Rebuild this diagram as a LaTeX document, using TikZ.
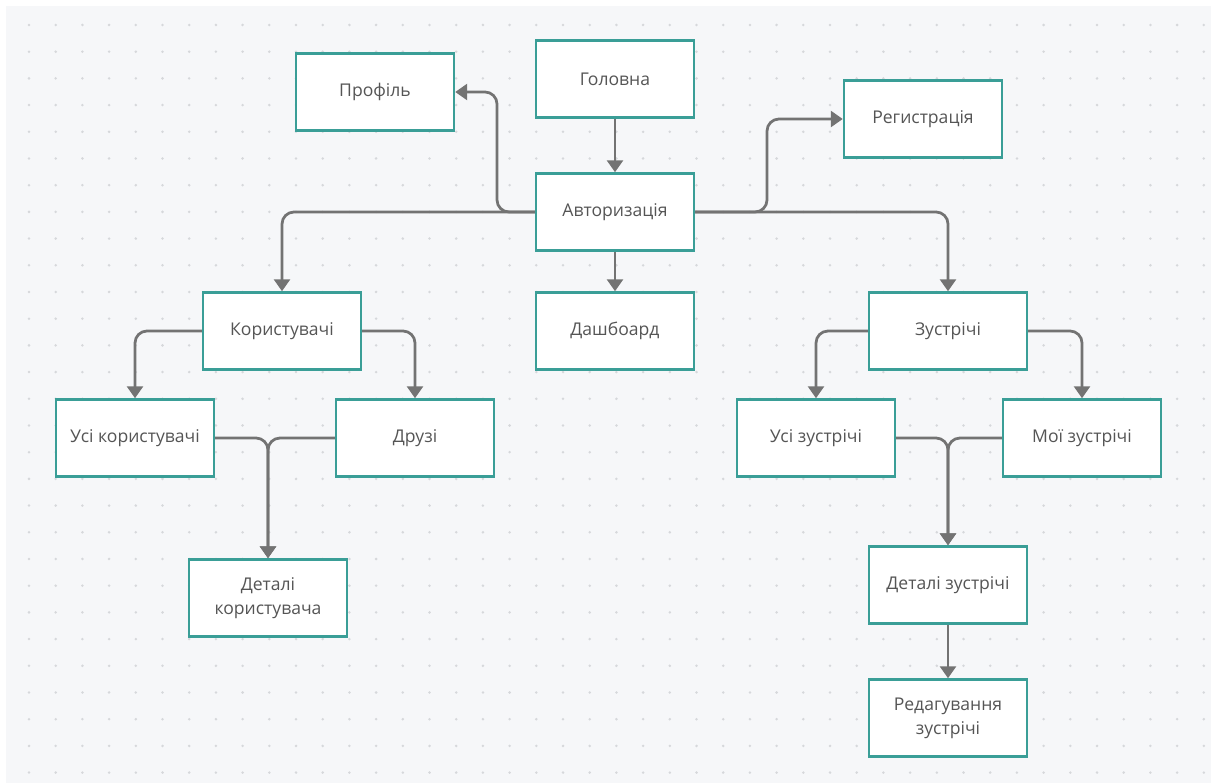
\documentclass[tikz,border=0pt]{standalone}
\usepackage{fontspec}
\setmainfont{Open Sans}
\usetikzlibrary{arrows.meta}
\definecolor{bgc}{HTML}{F6F7F9}
\definecolor{dotc}{HTML}{D6D8DB}
\definecolor{boxc}{HTML}{3A9E97}
\definecolor{linec}{HTML}{737373}
\definecolor{txtc}{HTML}{555555}
\tikzset{
  box/.style={draw=boxc, line width=0.05cm, fill=white, minimum width=3.16cm, minimum height=1.54cm,
    inner sep=0pt, align=center, text=txtc, font=\fontsize{10pt}{13.6pt}\selectfont},
  conn/.style={draw=linec, line width=0.055cm, rounded corners=0.24cm,
    -{Triangle[width=0.32cm,length=0.24cm]}},
}
\begin{document}
\begin{tikzpicture}[x=0.02cm,y=-0.02cm]
\useasboundingbox (0,0) rectangle (1211,783);
\fill[white] (0,0) rectangle (1211,783);
\fill[bgc] (6,6) rectangle (1211,783);
\foreach \i in {0,...,44}{
  \foreach \j in {0,...,28}{
    \fill[dotc] (29+26.7*\i, 25+26.7*\j) circle[radius=0.028cm];
  }
}
% nodes
\node[box] (glav) at (615,79) {Головна};
\node[box] (prof) at (375,92) {Профіль};
\node[box] (reg) at (923,119) {Регистрація};
\node[box] (auth) at (615,212) {Авторизація};
\node[box] (users) at (282,331) {Користувачі};
\node[box] (dash) at (615,331) {Дашбоард};
\node[box] (meet) at (948,331) {Зустрічі};
\node[box] (allu) at (135,438) {Усі користувачі};
\node[box] (friends) at (415,438) {Друзі};
\node[box] (udet) at (268,598) {Деталі\\користувача};
\node[box] (allm) at (816,438) {Усі зустрічі};
\node[box] (mym) at (1082,438) {Мої зустрічі};
\node[box] (mdet) at (948,585) {Деталі зустрічі};
\node[box] (medit) at (948,718) {Редагування\\зустрічі};
% junction coordinates
\coordinate (pj) at (497,212);
\coordinate (rj) at (767,212);
% connectors
\draw[conn] (glav) -- (auth);
\draw[conn] (auth) -- (dash);
\draw[conn] (auth.west) -| (users.north);
\draw[conn] (auth.west) -- (pj) |- (prof.east);
\draw[conn] (auth.east) -| (meet.north);
\draw[conn] (auth.east) -- (rj) |- (reg.west);
\draw[conn] (users.west) -| (allu.north);
\draw[conn] (users.east) -| (friends.north);
\draw[conn] (allu.east) -| (udet.north);
\draw[conn] (friends.west) -| (udet.north);
\draw[conn] (meet.west) -| (allm.north);
\draw[conn] (meet.east) -| (mym.north);
\draw[conn] (allm.east) -| (mdet.north);
\draw[conn] (mym.west) -| (mdet.north);
\draw[conn] (mdet) -- (medit);
\end{tikzpicture}
\end{document}
